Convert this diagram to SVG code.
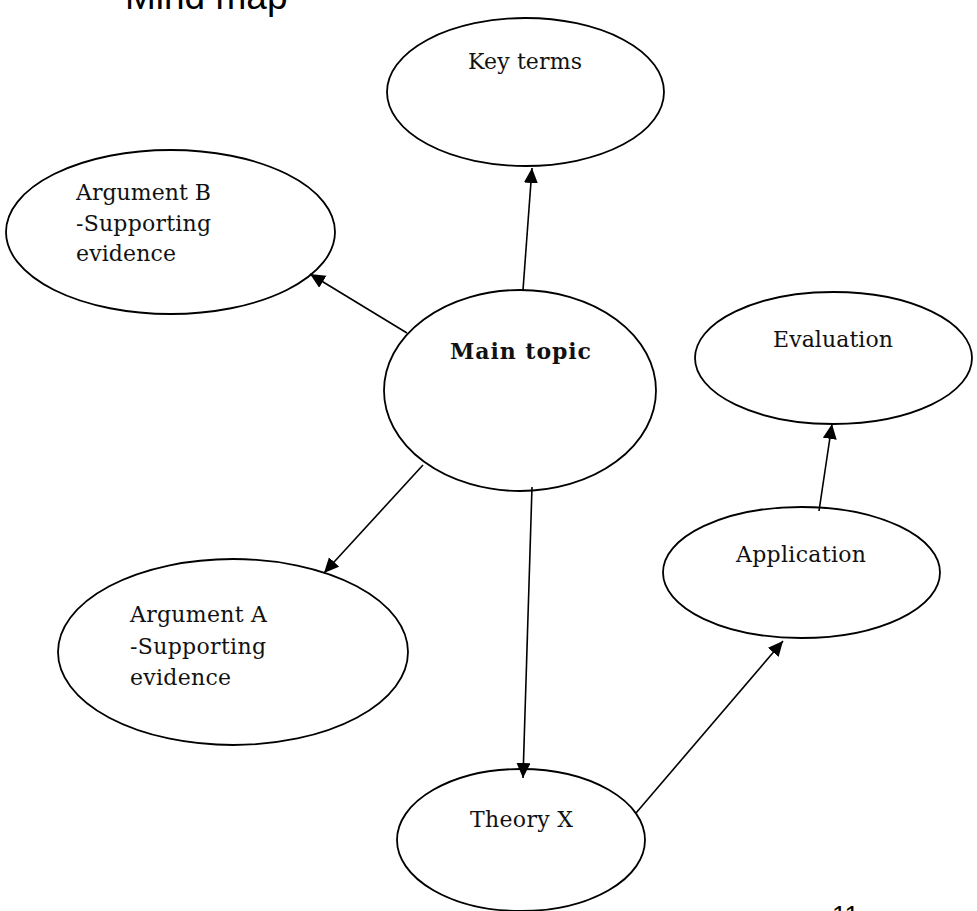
<svg xmlns="http://www.w3.org/2000/svg" width="977" height="911" viewBox="0 0 977 911">
<style>
.node ellipse{fill:#fff;stroke:#000;stroke-width:1.8}
.lbl{font-family:"DejaVu Serif","Liberation Serif",serif;font-size:22px;fill:#111}
.bold{font-weight:bold}
.conn line{stroke:#000;stroke-width:1.6;marker-end:url(#ah)}
.title{font-family:"Liberation Sans",Arial,sans-serif;fill:#000}
</style>
<defs>
<marker id="ah" markerUnits="userSpaceOnUse" markerWidth="16" markerHeight="15" refX="15" refY="7" orient="auto">
<path d="M0,0 L15,7 L0,14 z" fill="#000"/>
</marker>
</defs>
<rect width="977" height="911" fill="#fff"/>
<text class="title" x="125" y="9" font-size="37">Mind map</text>
<text class="title" x="832" y="924" font-size="26">11</text>
<g id="key-terms" class="node">
<ellipse cx="525.5" cy="92" rx="138.5" ry="74"/>
<text class="lbl" x="468" y="69" textLength="114">Key terms</text>
</g>
<g id="argument-b" class="node">
<ellipse cx="170.5" cy="232" rx="164.5" ry="82"/>
<text class="lbl" x="76" y="200" textLength="135">Argument B</text>
<text class="lbl" x="76" y="231" textLength="135">-Supporting</text>
<text class="lbl" x="76" y="261" textLength="100">evidence</text>
</g>
<g id="main-topic" class="node">
<ellipse cx="520" cy="390.5" rx="136" ry="100.5"/>
<text class="lbl bold" x="450" y="359" textLength="141">Main topic</text>
</g>
<g id="evaluation" class="node">
<ellipse cx="833.5" cy="358" rx="138.5" ry="66"/>
<text class="lbl" x="773" y="347" textLength="120">Evaluation</text>
</g>
<g id="application" class="node">
<ellipse cx="801.5" cy="572.5" rx="138.5" ry="65.5"/>
<text class="lbl" x="736" y="562" textLength="130">Application</text>
</g>
<g id="argument-a" class="node">
<ellipse cx="233" cy="652" rx="175" ry="93"/>
<text class="lbl" x="130" y="622" textLength="137">Argument A</text>
<text class="lbl" x="130" y="654" textLength="136">-Supporting</text>
<text class="lbl" x="130" y="685" textLength="101">evidence</text>
</g>
<g id="theory-x" class="node">
<ellipse cx="521" cy="840" rx="124" ry="71"/>
<text class="lbl" x="470" y="827" textLength="103">Theory X</text>
</g>
<g id="connectors" class="conn">
<line x1="523" y1="290" x2="532" y2="168"/>
<line x1="407" y1="333" x2="310" y2="274"/>
<line x1="423" y1="465" x2="324" y2="573"/>
<line x1="532" y1="487" x2="523" y2="778"/>
<line x1="636" y1="813" x2="783" y2="641"/>
<line x1="819" y1="511" x2="832" y2="424"/>
</g>
</svg>
